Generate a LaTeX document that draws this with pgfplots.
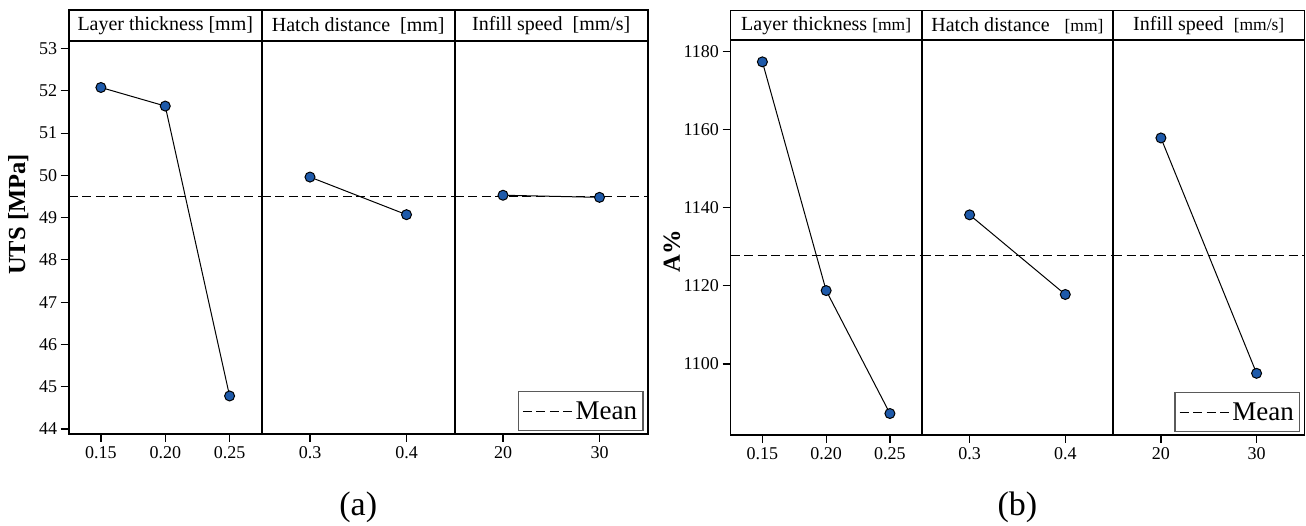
\documentclass[border=0pt]{standalone}
\usepackage{fontspec}
\setmainfont{Liberation Serif}
\usepackage{pgfplots}
\pgfplotsset{compat=1.18}
\definecolor{mblue}{RGB}{30,90,170}
\definecolor{lgray}{RGB}{90,90,90}
\pgfplotsset{
  common/.style={
    scale only axis,
    axis line style={line width=1.8pt},
    tick style={black, line width=1.2pt},
    tick align=outside,
    major tick length=8pt,
    xtick pos=left, ytick pos=left,
    clip=false,
    ticklabel style={font=\rmfamily\fontsize{18}{21}\selectfont},
    /pgf/number format/assume math mode=true,
    /pgf/number format/1000 sep={},
    xticklabel style={yshift=-1pt},
    enlargelimits=false,
  },
  meanline/.style={black, line width=1.4pt, dash pattern=on 9pt off 4.5pt},
  dataline/.style={black, line width=1pt, mark=*, mark size=5pt,
    mark options={fill=mblue, draw=black, line width=1pt, solid}},
  leg/.style={legend style={at={(axis description cs:1,0)}, anchor=south east,
    xshift=-4pt, yshift=2.5pt, draw=lgray, line width=1.3pt,
    font=\rmfamily\fontsize{27}{30}\selectfont, inner xsep=4pt, inner ysep=8pt},
    legend image code/.code={\draw[##1] (0pt,0pt) -- (50pt,0pt);}},
}
\newcommand{\hdr}[2]{%
  \draw[line width=1.8pt] (rel axis cs:0,1) rectangle ([yshift=#1]rel axis cs:1,1);
  \node[font=\rmfamily\fontsize{20}{24}\selectfont] at ([yshift=#1/2]rel axis cs:0.5,1) {#2};}
\begin{document}
\begin{tikzpicture}
\useasboundingbox (0,0) rectangle (1306pt,526pt);
% ---------------- (a) ----------------
\begin{axis}[common, at={(68.75pt,92pt)}, anchor=south west, width=193pt, height=393pt,
  xmin=0.125, xmax=0.275, ymin=43.88, ymax=53.18,
  xtick={0.15,0.20,0.25}, xticklabels={0.15,0.20,0.25},
  ytick={44,45,46,47,48,49,50,51,52,53},
  yticklabels={44,45,46,47,48,49,50,51,52,53},
  ylabel={\rmfamily\fontsize{24.5}{28}\selectfont\bfseries UTS [MPa]},
  ylabel style={at={(axis description cs:-0.261,0.5585)}, anchor=center}]
\addplot[meanline] coordinates {(0.125,49.5) (0.275,49.5)};
\addplot[dataline] coordinates {(0.15,52.08) (0.20,51.64) (0.25,44.78)};
\hdr{31pt}{Layer thickness [mm]}
\end{axis}
\begin{axis}[common, at={(261.75pt,92pt)}, anchor=south west, width=193pt, height=393pt,
  xmin=0.25, xmax=0.45, ymin=43.88, ymax=53.18,
  xtick={0.3,0.4}, xticklabels={0.3,0.4}, ytick=\empty]
\addplot[meanline] coordinates {(0.25,49.5) (0.45,49.5)};
\addplot[dataline] coordinates {(0.3,49.96) (0.4,49.07)};
\hdr{31pt}{Hatch distance\ \ [mm]}
\node[font=\rmfamily\fontsize{34}{40}\selectfont] at (axis description cs:0.5,-0.186) {(a)};
\end{axis}
\begin{axis}[common, leg, at={(454.75pt,92pt)}, anchor=south west, width=193pt, height=393pt,
  xmin=15, xmax=35, ymin=43.88, ymax=53.18,
  xtick={20,30}, xticklabels={20,30}, ytick=\empty]
\addplot[meanline] coordinates {(15,49.5) (35,49.5)};
\addlegendentry{Mean}
\addplot[dataline, forget plot] coordinates {(20,49.53) (30,49.48)};
\hdr{31pt}{Infill speed\ \ [mm/s]}
\end{axis}
% ---------------- (b) ----------------
\begin{axis}[common, at={(730.5pt,91pt)}, anchor=south west, width=191.3pt, height=395pt,
  xmin=0.125, xmax=0.275, ymin=1081.8, ymax=1183.0,
  xtick={0.15,0.20,0.25}, xticklabels={0.15,0.20,0.25},
  ytick={1100,1120,1140,1160,1180},
  yticklabels={1100,1120,1140,1160,1180},
  ylabel={\rmfamily\fontsize{24.5}{28}\selectfont\bfseries A\%},
  ylabel style={at={(axis description cs:-0.307,0.466)}, anchor=center}]
\addplot[meanline] coordinates {(0.125,1127.8) (0.275,1127.8)};
\addplot[dataline] coordinates {(0.15,1177.4) (0.20,1118.8) (0.25,1087.3)};
\hdr{29.5pt}{Layer thickness {\fontsize{17.5}{20}\selectfont[mm]}}
\end{axis}
\begin{axis}[common, at={(921.8pt,91pt)}, anchor=south west, width=191.3pt, height=395pt,
  xmin=0.25, xmax=0.45, ymin=1081.8, ymax=1183.0,
  xtick={0.3,0.4}, xticklabels={0.3,0.4}, ytick=\empty]
\addplot[meanline] coordinates {(0.25,1127.8) (0.45,1127.8)};
\addplot[dataline] coordinates {(0.3,1138.2) (0.4,1117.8)};
\hdr{29.5pt}{Hatch distance\ \ \ {\fontsize{17.5}{20}\selectfont[mm]}}
\node[font=\rmfamily\fontsize{34}{40}\selectfont] at (axis description cs:0.5,-0.182) {(b)};
\end{axis}
\begin{axis}[common, leg, at={(1113.1pt,91pt)}, anchor=south west, width=191.3pt, height=395pt,
  xmin=15, xmax=35, ymin=1081.8, ymax=1183.0,
  xtick={20,30}, xticklabels={20,30}, ytick=\empty]
\addplot[meanline] coordinates {(15,1127.8) (35,1127.8)};
\addlegendentry{Mean}
\addplot[dataline, forget plot] coordinates {(20,1157.9) (30,1097.6)};
\hdr{29.5pt}{Infill speed\ \ {\fontsize{17.5}{20}\selectfont[mm/s]}}
\end{axis}
\end{tikzpicture}
\end{document}
